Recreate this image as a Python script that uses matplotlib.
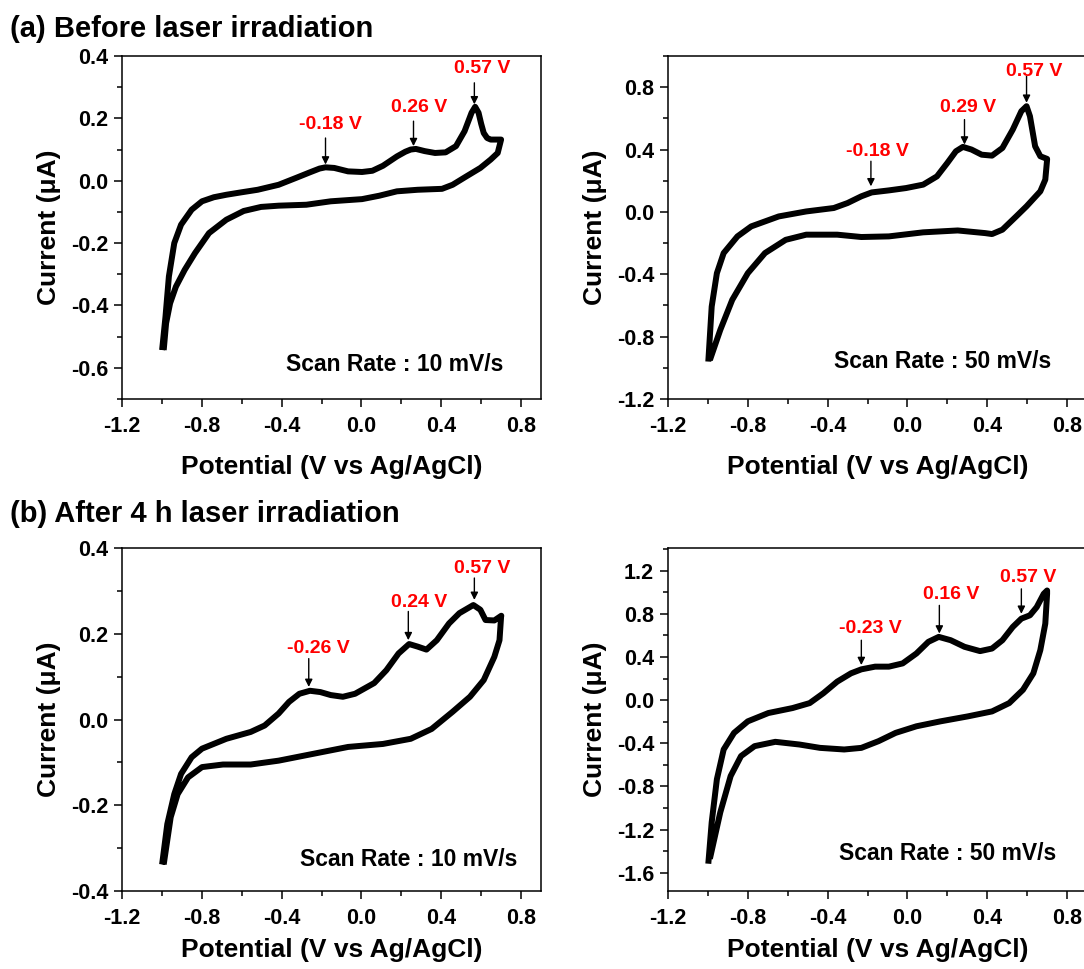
import numpy as np
import matplotlib.pyplot as plt
from matplotlib.ticker import MultipleLocator, FormatStrFormatter

plt.rcParams['font.family'] = ['Liberation Sans', 'DejaVu Sans']
plt.rcParams['font.weight'] = 'bold'
plt.rcParams['axes.unicode_minus'] = False

# (a) before irradiation, 10 mV/s
a10_fwd_x = [-0.999, -0.982, -0.965, -0.938, -0.904, -0.851, -0.799, -0.74, -0.677, -0.6, -0.52, -0.415, -0.328,
             -0.258, -0.21, -0.18, -0.136, -0.067, 0.003, 0.055, 0.108, 0.178, 0.22, 0.247, 0.273, 0.317,
             0.369, 0.422, 0.474, 0.517, 0.552, 0.57, 0.587, 0.60, 0.613, 0.63, 0.648, 0.70]
a10_fwd_y = [-0.543, -0.436, -0.307, -0.20, -0.141, -0.093, -0.066, -0.053, -0.045, -0.037, -0.029, -0.013, 0.009,
             0.027, 0.039, 0.043, 0.041, 0.030, 0.028, 0.032, 0.048, 0.078, 0.093, 0.100, 0.102, 0.095,
             0.089, 0.091, 0.111, 0.159, 0.218, 0.237, 0.218, 0.183, 0.153, 0.137, 0.132, 0.132]
a10_rev_x = [0.70, 0.683, 0.648, 0.596, 0.526, 0.457, 0.404, 0.282, 0.178, 0.090, 0.003, -0.154, -0.276,
             -0.415, -0.503, -0.59, -0.677, -0.764, -0.834, -0.886, -0.930, -0.959, -0.979, -0.991]
a10_rev_y = [0.132, 0.089, 0.068, 0.041, 0.014, -0.013, -0.026, -0.029, -0.034, -0.048, -0.059, -0.066,
             -0.077, -0.080, -0.084, -0.097, -0.125, -0.168, -0.232, -0.286, -0.34, -0.393, -0.457, -0.543]

# (a) before irradiation, 50 mV/s
a50_fwd_x = [-0.998, -0.981, -0.955, -0.921, -0.852, -0.783, -0.645, -0.507, -0.369, -0.30, -0.231, -0.179,
             -0.093, -0.007, 0.079, 0.148, 0.20, 0.243, 0.278, 0.321, 0.372, 0.424, 0.476, 0.528, 0.571,
             0.597, 0.614, 0.64, 0.666, 0.70]
a50_fwd_y = [-0.96, -0.607, -0.393, -0.264, -0.157, -0.093, -0.029, 0.003, 0.025, 0.057, 0.10, 0.125,
             0.138, 0.153, 0.175, 0.228, 0.314, 0.389, 0.417, 0.40, 0.367, 0.361, 0.41, 0.528, 0.646,
             0.678, 0.614, 0.421, 0.357, 0.34]
a50_rev_x = [0.70, 0.691, 0.666, 0.597, 0.545, 0.476, 0.424, 0.39, 0.252, 0.079, -0.093, -0.231, -0.352,
             -0.507, -0.61, -0.714, -0.80, -0.878, -0.938, -0.99]
a50_rev_y = [0.335, 0.207, 0.132, 0.036, -0.029, -0.114, -0.142, -0.136, -0.119, -0.131, -0.157, -0.161,
             -0.146, -0.146, -0.179, -0.264, -0.393, -0.564, -0.757, -0.95]

# (b) after 4 h irradiation, 10 mV/s
b10_fwd_x = [-0.999, -0.973, -0.938, -0.904, -0.851, -0.799, -0.677, -0.555, -0.485, -0.415, -0.363, -0.311,
             -0.258, -0.206, -0.154, -0.093, -0.032, 0.064, 0.125, 0.186, 0.239, 0.282, 0.326, 0.378, 0.439,
             0.491, 0.561, 0.596, 0.622, 0.666, 0.701]
b10_fwd_y = [-0.338, -0.244, -0.174, -0.127, -0.088, -0.068, -0.045, -0.029, -0.014, 0.014, 0.041, 0.060,
             0.067, 0.064, 0.057, 0.053, 0.060, 0.085, 0.115, 0.154, 0.176, 0.170, 0.163, 0.185, 0.224,
             0.248, 0.267, 0.256, 0.232, 0.231, 0.242]
b10_rev_x = [0.70, 0.692, 0.666, 0.613, 0.544, 0.457, 0.352, 0.247, 0.108, -0.067, -0.241, -0.415, -0.555,
             -0.694, -0.799, -0.869, -0.921, -0.956, -0.991]
b10_rev_y = [0.24, 0.185, 0.146, 0.092, 0.053, 0.018, -0.022, -0.045, -0.057, -0.064, -0.08, -0.096, -0.105,
             -0.105, -0.111, -0.135, -0.174, -0.228, -0.338]

# (b) after 4 h irradiation, 50 mV/s
b50_fwd_x = [-0.998, -0.981, -0.955, -0.921, -0.869, -0.80, -0.697, -0.576, -0.49, -0.421, -0.352, -0.283,
             -0.231, -0.162, -0.093, -0.024, 0.045, 0.105, 0.157, 0.217, 0.286, 0.364, 0.424, 0.476, 0.528,
             0.571, 0.614, 0.648, 0.683, 0.70]
b50_fwd_y = [-1.517, -1.133, -0.734, -0.458, -0.304, -0.197, -0.12, -0.074, -0.028, 0.064, 0.171, 0.248,
             0.285, 0.310, 0.310, 0.340, 0.432, 0.54, 0.586, 0.555, 0.494, 0.454, 0.478, 0.555, 0.678,
             0.755, 0.786, 0.862, 0.985, 1.016]
b50_rev_x = [0.70, 0.691, 0.666, 0.631, 0.579, 0.51, 0.424, 0.303, 0.166, 0.045, -0.059, -0.145, -0.231,
             -0.317, -0.438, -0.541, -0.662, -0.766, -0.834, -0.886, -0.938, -0.99]
b50_rev_y = [0.985, 0.709, 0.463, 0.248, 0.095, -0.028, -0.105, -0.151, -0.197, -0.243, -0.304, -0.381,
             -0.443, -0.458, -0.443, -0.412, -0.387, -0.427, -0.519, -0.704, -1.041, -1.471]

# peak labels: (text, potential, arrow tail current, arrow tip current, label x, label y)
a10_peaks = [('-0.18 V', -0.18, 0.137, 0.052, -0.154, 0.18),
             ('0.26 V', 0.261, 0.191, 0.111, 0.291, 0.234),
             ('0.57 V', 0.566, 0.314, 0.245, 0.605, 0.36)]
a50_peaks = [('-0.18 V', -0.183, 0.325, 0.164, -0.15, 0.385),
             ('0.29 V', 0.286, 0.592, 0.432, 0.303, 0.667),
             ('0.57 V', 0.597, 0.87, 0.70, 0.634, 0.903)]
b10_peaks = [('-0.26 V', -0.264, 0.142, 0.076, -0.215, 0.166),
             ('0.24 V', 0.235, 0.252, 0.185, 0.291, 0.273),
             ('0.57 V', 0.566, 0.33, 0.279, 0.605, 0.353)]
b50_peaks = [('-0.23 V', -0.231, 0.555, 0.325, -0.188, 0.663),
             ('0.16 V', 0.16, 0.878, 0.617, 0.217, 0.979),
             ('0.57 V', 0.571, 1.031, 0.80, 0.605, 1.139)]

panels = [
    (a10_fwd_x, a10_fwd_y, a10_rev_x, a10_rev_y, a10_peaks, 'Scan Rate : 10 mV/s', (0.169, -0.588),
     (-0.7, 0.4), 0.2, [122, 399]),
    (a50_fwd_x, a50_fwd_y, a50_rev_x, a50_rev_y, a50_peaks, 'Scan Rate : 50 mV/s', (0.178, -0.96),
     (-1.2, 1.0), 0.4, [668, 399]),
    (b10_fwd_x, b10_fwd_y, b10_rev_x, b10_rev_y, b10_peaks, 'Scan Rate : 10 mV/s', (0.239, -0.326),
     (-0.4, 0.4), 0.2, [122, 891]),
    (b50_fwd_x, b50_fwd_y, b50_rev_x, b50_rev_y, b50_peaks, 'Scan Rate : 50 mV/s', (0.203, -1.425),
     (-1.77, 1.41), 0.4, [668, 891]),
]

W, H = 1084, 969
fig = plt.figure(figsize=(W / 100, H / 100), dpi=100)

for i, (fx, fy, rx, ry, peaks, rate, rate_pos, ylim, ystep, (left, bottom)) in enumerate(panels):
    ax = fig.add_axes([left / W, (H - bottom) / H, 419 / W, 343 / H])
    ax.plot(fx + rx, fy + ry, color='black', lw=4.3, solid_joinstyle='round', solid_capstyle='butt')
    ax.set_xlim(-1.2, 0.9)
    ax.set_ylim(*ylim)
    ax.xaxis.set_major_locator(MultipleLocator(0.4))
    ax.xaxis.set_minor_locator(MultipleLocator(0.2))
    ax.yaxis.set_major_locator(MultipleLocator(ystep))
    ax.yaxis.set_minor_locator(MultipleLocator(ystep / 2))
    ax.xaxis.set_major_formatter(FormatStrFormatter('%.1f'))
    ax.yaxis.set_major_formatter(FormatStrFormatter('%.1f'))
    ax.tick_params(which='major', direction='out', length=6, width=1.1, labelsize=15.5, pad=6)
    ax.tick_params(which='minor', direction='out', length=3.5, width=1.1)
    ax.tick_params(axis='y', pad=4)
    for s in ax.spines.values():
        s.set_linewidth(1.1)
    ax.set_xlabel('Potential (V vs Ag/AgCl)', fontsize=19, fontweight='bold')
    ax.set_ylabel('Current (μA)', fontsize=19, fontweight='bold')
    ax.yaxis.set_label_coords(-0.145, 0.5)
    ax.xaxis.set_label_coords(0.5, -0.163 if i < 2 else -0.138)

    for label, px, tail, tip, tx, ty in peaks:
        ax.annotate('', xy=(px, tip), xytext=(px, tail),
                    arrowprops=dict(arrowstyle='-|>', color='black', lw=1.0,
                                    mutation_scale=11, shrinkA=0, shrinkB=0))
        ax.text(tx, ty, label, color='#ff0000', fontsize=14, fontweight='bold',
                ha='center', va='center')
    ax.text(rate_pos[0], rate_pos[1], rate, fontsize=16.5, fontweight='bold',
            ha='center', va='center')

fig.text(10 / W, (H - 37) / H, '(a) Before laser irradiation', fontsize=21,
         fontweight='bold', va='baseline')
fig.text(10 / W, (H - 522) / H, '(b) After 4 h laser irradiation', fontsize=21,
         fontweight='bold', va='baseline')

fig.savefig('out.png', dpi=100)
